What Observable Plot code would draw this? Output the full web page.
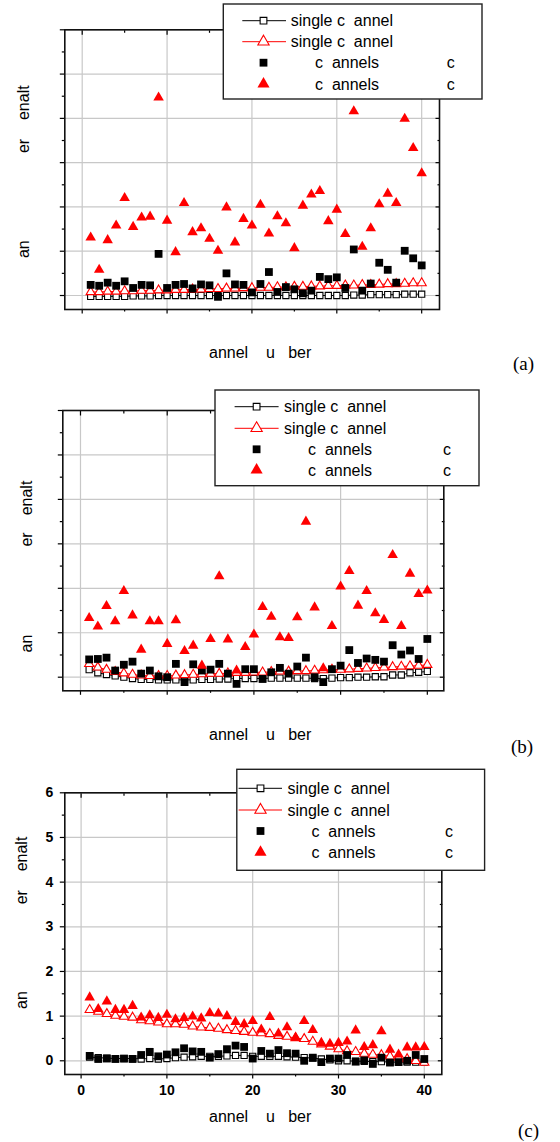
<!DOCTYPE html>
<html>
<head>
<meta charset="utf-8">
<script src="https://cdn.jsdelivr.net/npm/d3@7"></script>
<script src="https://cdn.jsdelivr.net/npm/@observablehq/plot@0.6"></script>
<style>
  html, body { margin: 0; padding: 0; background: #fff; }
  #chart { width: 560px; }
  #chart svg { display: block; }
</style>
</head>
<body>
<div id="chart"></div>
<script>
// ---------- categories / ticks / texts ----------
const channels = [1,2,3,4,5,6,7,8,9,10,11,12,13,14,15,16,17,18,19,20,21,22,23,24,25,26,27,28,29,30,31,32,33,34,35,36,37,38,39,40];
const xMajor = [0, 10, 20, 30, 40];
const xMinor = [5, 15, 25, 35];
const yMajor = [0, 1, 2, 3, 4, 5, 6];
const yMinor = [0.5, 1.5, 2.5, 3.5, 4.5, 5.5];
const xTickLabels = ["0", "10", "20", "30", "40"];
const yTickLabels = ["0", "1", "2", "3", "4", "5", "6"];
const legendLabels = ["single c\u00a0\u00a0annel", "single c\u00a0\u00a0annel", "c\u00a0\u00a0annels", "c\u00a0\u00a0annels"];
const legendSuffix = ["", "", "c", "c"];
const xAxisLabel = "annel\u00a0\u00a0\u00a0\u00a0u\u00a0\u00a0\u00a0ber";
const yAxisLabelParts = ["an", "er", "enalt"];
const panelTags = ["(a)", "(b)", "(c)"];

// ---------- panel (a) ----------
const aOpenSq  = [-0.02,-0.02,-0.02,-0.02,-0.02,-0.01,-0.01,-0.01,0,0, 0,0,0,0,0,0,0,0,0,0, 0,0,0,0,0,0,0,0,0,0, 0,0.01,0.01,0.02,0.02,0.02,0.02,0.03,0.03,0.03];
const aOpenTri = [0.08,0.08,0.09,0.09,0.10,0.10,0.11,0.11,0.12,0.12, 0.13,0.13,0.14,0.14,0.15,0.15,0.16,0.16,0.17,0.17, 0.18,0.18,0.19,0.19,0.20,0.20,0.21,0.21,0.22,0.22, 0.23,0.23,0.24,0.24,0.25,0.26,0.26,0.27,0.28,0.28];
const aFillSq  = [0.24,0.22,0.29,0.22,0.32,0.17,0.24,0.23,0.94,0.17, 0.24,0.26,0.16,0.25,0.23,-0.03,0.50,0.25,0.24,0.07, 0.26,0.53,0.08,0.19,0.14,0.05,0.11,0.42,0.37,0.41, 0.17,1.04,0.11,0.27,0.74,0.58,0.29,1.01,0.84,0.68];
const aFillTri = [1.31,0.58,1.25,1.58,2.20,1.55,1.76,1.78,4.47,1.69, 0.98,2.09,1.43,1.52,1.28,1.01,1.99,1.20,1.73,1.58, 2.05,1.40,1.79,1.63,1.07,2.03,2.28,2.36,1.68,1.94, 1.39,4.16,1.10,1.52,2.06,2.30,2.09,3.99,3.33,2.76];

// ---------- panel (b) ----------
const bOpenSq  = [0.17,0.10,0.06,0.03,0.0,-0.03,-0.05,-0.05,-0.06,-0.06, -0.06,-0.06,-0.06,-0.05,-0.05,-0.04,-0.04,-0.03,-0.03,-0.03, -0.03,-0.02,-0.02,-0.02,-0.02,-0.02,-0.03,-0.03,-0.02,-0.01, -0.01,0,0,0.01,0.01,0.05,0.05,0.10,0.11,0.13];
const bOpenTri = [0.30,0.22,0.17,0.12,0.09,0.06,0.04,0.03,0.03,0.03, 0.04,0.05,0.06,0.07,0.08,0.08,0.09,0.10,0.10,0.11, 0.11,0.12,0.13,0.13,0.14,0.14,0.15,0.16,0.17,0.17, 0.18,0.19,0.20,0.21,0.22,0.23,0.24,0.25,0.26,0.28];
const bFillSq  = [0.40,0.41,0.44,0.15,0.28,0.35,0.08,0.15,0.02,0.0, 0.30,-0.11,0.29,0.15,0.17,0.30,0.08,-0.15,0.18,0.18, -0.04,0.11,0.21,0.08,0.24,0.44,0.0,-0.11,0.18,0.26, 0.61,0.32,0.42,0.39,0.35,0.72,0.51,0.60,0.41,0.86];
const bFillTri = [1.33,1.14,1.60,1.26,1.94,1.39,0.62,1.26,1.26,0.75, 1.28,0.59,0.71,0.26,0.86,2.27,0.85,0.15,0.68,0.96, 1.58,1.36,0.90,0.88,1.35,3.50,1.57,0.20,1.15,2.04, 2.39,1.61,1.94,1.44,1.29,2.75,1.15,2.33,1.87,1.95];

// ---------- panel (c) ----------
const cOpenSq  = [0.08,0.07,0.06,0.05,0.05,0.05,0.04,0.05,0.04,0.05, 0.07,0.08,0.09,0.10,0.10,0.10,0.11,0.12,0.12,0.10, 0.10,0.10,0.10,0.09,0.08,0.07,0.06,0.04,0.02,0.0, 0.0,-0.01,-0.01,-0.02,-0.02,-0.03,-0.03,-0.03,-0.03,-0.03];
const cOpenTri = [1.14,1.10,1.05,1.01,0.99,0.97,0.91,0.89,0.86,0.82, 0.82,0.81,0.77,0.75,0.74,0.72,0.69,0.67,0.65,0.63, 0.62,0.60,0.56,0.54,0.51,0.49,0.43,0.37,0.32,0.26, 0.22,0.20,0.16,0.14,0.13,0.10,0.07,0.04,0.0,-0.04];
const cFillSq  = [0.11,0.04,0.05,0.04,0.05,0.04,0.13,0.20,0.10,0.14, 0.19,0.28,0.21,0.20,0.07,0.15,0.26,0.34,0.31,0.05, 0.22,0.16,0.24,0.17,0.16,0.0,0.07,-0.03,0.05,0.05, 0.13,-0.02,0.01,-0.07,0.07,-0.04,-0.03,0.0,0.13,0.04];
const cFillTri = [1.42,1.16,1.33,1.14,1.14,1.23,0.97,1.02,0.96,1.03, 0.93,0.96,0.99,0.95,1.07,1.06,1.00,0.87,0.82,0.89, 0.70,0.98,0.61,0.75,0.52,0.89,0.69,0.40,0.38,0.40, 0.43,0.68,0.31,0.35,0.66,0.25,0.14,0.30,0.30,0.31];

// ---------- layout (positions and styles) ----------
const FONT = "'Liberation Sans', Arial, Helvetica, sans-serif";
const SERIF = "'Liberation Serif', 'Times New Roman', serif";
const RED = "#ff0000";
const GRID = "#c8c8c8";

const panels = [
  { series: {s0: aOpenSq, s1: aOpenTri, m0: aFillSq, m1: aFillTri},
    height: 380, mt: 29.3, mb: 71, ml: 64.3, mr: 121, xd: [-2.05, 42.1], yd: [-0.316, 6], labels: false,
    tag: {x: 513, y: 370}, xl: {x: 209, y: 357.5}, yl: {x: 28.5, ys: [249.2, 146, 102.7]},
    lg: {x: 223.3, y: 4, w: 258.7, h: 95, rows: [20.7, 41.7, 62.7, 84], lx1: 242.3, lx2: 286, mx: 263.5, tx: 290.7, tx2: 315, tx3: 446.7} },
  { series: {s0: bOpenSq, s1: bOpenTri, m0: bFillSq, m1: bFillTri},
    height: 380, mt: 30, mb: 69.7, ml: 62.3, mr: 116.7, xd: [-2.04, 41.9], yd: [-0.306, 6], labels: false,
    tag: {x: 511, y: 373}, xl: {x: 209, y: 359.5}, yl: {x: 31.5, ys: [263.5, 159.5, 118]},
    lg: {x: 215, y: 10, w: 264, h: 95.7, rows: [26.7, 48.3, 69.3, 90], lx1: 234.6, lx2: 278.6, mx: 256.6, tx: 284, tx2: 308, tx3: 443} },
  { series: {s0: cOpenSq, s1: cOpenTri, m0: cFillSq, m1: cFillTri},
    height: 382, mt: 32.3, mb: 68, ml: 64.3, mr: 118.7, xd: [-1.9, 42.04], yd: [-0.307, 6], labels: true,
    tag: {x: 518, y: 376.5}, xl: {x: 209, y: 362}, yl: {x: 27, ys: [240, 137.2, 94]},
    lg: {x: 236.8, y: 9.3, w: 247.8, h: 101, rows: [28.3, 50, 71, 92.3], lx1: 238.6, lx2: 282, mx: 260.5, tx: 287.5, tx2: 311.4, tx3: 445} }
];

const R = {openSq: 3.5, openTri: 3.4, fillSq: 4.4, fillTri: 3.9};

function symbolPath(type, r) {
  return d3.symbol(type, Math.PI * r * r)();
}

function makePanel(p, idx) {
  const rows = channels.map((n, i) => ({n, s0: p.series.s0[i], s1: p.series.s1[i], m0: p.series.m0[i], m1: p.series.m1[i]}));
  const lab = p.labels;
  const tickTxt = lab ? {fontSize: 14, fontWeight: "bold", fill: "#000"} : {};
  const svg = Plot.plot({
    width: 560,
    height: p.height,
    marginTop: p.mt, marginBottom: p.mb, marginLeft: p.ml, marginRight: p.mr,
    style: {fontFamily: FONT, background: "#fff", overflow: "visible"},
    x: {type: "linear", domain: p.xd},
    y: {type: "linear", domain: p.yd},
    marks: [
      Plot.gridX(xMajor, {stroke: GRID, strokeOpacity: 1, strokeWidth: 1.2}),
      Plot.gridY(yMajor, {stroke: GRID, strokeOpacity: 1, strokeWidth: 1.2}),
      // outer ticks bottom / left
      Plot.axisX(xMajor, {anchor: "bottom", tickSize: 4.5, tickPadding: 6, label: null, stroke: "#000", strokeWidth: 1.2,
        tickFormat: lab ? (d => xTickLabels[xMajor.indexOf(d)]) : (() => ""), ...tickTxt}),
      Plot.axisX(xMinor, {anchor: "bottom", tickSize: 2.5, label: null, stroke: "#000", strokeWidth: 1.2, tickFormat: () => ""}),
      Plot.axisY(yMajor, {anchor: "left", tickSize: 4.5, tickPadding: 7, label: null, stroke: "#000", strokeWidth: 1.2,
        tickFormat: lab ? (d => yTickLabels[yMajor.indexOf(d)]) : (() => ""), ...tickTxt}),
      Plot.axisY(yMinor, {anchor: "left", tickSize: 2.5, label: null, stroke: "#000", strokeWidth: 1.2, tickFormat: () => ""}),
      // inner ticks top / right
      Plot.axisX(xMajor, {anchor: "top", tickSize: -4.5, label: null, stroke: "#000", strokeWidth: 1.2, tickFormat: () => ""}),
      Plot.axisX(xMinor, {anchor: "top", tickSize: -2.5, label: null, stroke: "#000", strokeWidth: 1.2, tickFormat: () => ""}),
      Plot.axisY(yMajor, {anchor: "right", tickSize: -4.5, label: null, stroke: "#000", strokeWidth: 1.2, tickFormat: () => ""}),
      Plot.axisY(yMinor, {anchor: "right", tickSize: -2.5, label: null, stroke: "#000", strokeWidth: 1.2, tickFormat: () => ""}),
      // single channel series (lines + open symbols)
      Plot.line(rows, {x: "n", y: "s0", stroke: "#000", strokeWidth: 1}),
      Plot.dot(rows, {x: "n", y: "s0", symbol: "square", r: R.openSq, fill: "#fff", stroke: "#000", strokeWidth: 1.1}),
      Plot.line(rows, {x: "n", y: "s1", stroke: RED, strokeWidth: 1}),
      Plot.dot(rows, {x: "n", y: "s1", symbol: "triangle", r: R.openTri, fill: "#fff", stroke: RED, strokeWidth: 1.1}),
      // multi channel series (filled symbols)
      Plot.dot(rows, {x: "n", y: "m0", symbol: "square", r: R.fillSq, fill: "#000", stroke: null}),
      Plot.dot(rows, {x: "n", y: "m1", symbol: "triangle", r: R.fillTri, fill: RED, stroke: null}),
      Plot.frame({stroke: "#111", strokeWidth: 1.6})
    ]
  });

  const s = d3.select(svg);

  // x axis title
  s.append("text")
    .attr("x", p.xl.x).attr("y", p.xl.y)
    .attr("font-family", FONT).attr("font-size", 16).attr("fill", "#000").attr("text-anchor", "start")
    .text(xAxisLabel);

  // y axis title pieces (rotated)
  yAxisLabelParts.forEach((t, i) => {
    s.append("text")
      .attr("transform", `translate(${p.yl.x},${p.yl.ys[i]}) rotate(-90)`)
      .attr("font-family", FONT).attr("font-size", 16).attr("fill", "#000").attr("text-anchor", "middle")
      .text(t);
  });

  // panel tag
  s.append("text")
    .attr("x", p.tag.x).attr("y", p.tag.y)
    .attr("font-family", SERIF).attr("font-size", 19).attr("fill", "#000").attr("text-anchor", "start")
    .text(panelTags[idx]);

  // legend
  const L = p.lg;
  const g = s.append("g").attr("class", "legend");
  g.append("rect").attr("x", L.x).attr("y", L.y).attr("width", L.w).attr("height", L.h)
    .attr("fill", "#fff").attr("stroke", "#222").attr("stroke-width", 1.4);
  const yy = L.rows;
  // row 0: black line + open square
  g.append("line").attr("x1", L.lx1).attr("x2", L.lx2).attr("y1", yy[0]).attr("y2", yy[0]).attr("stroke", "#000").attr("stroke-width", 1);
  g.append("path").attr("d", symbolPath(d3.symbolSquare, R.openSq + 0.3)).attr("transform", `translate(${L.mx},${yy[0]})`)
    .attr("fill", "#fff").attr("stroke", "#000").attr("stroke-width", 1.1);
  // row 1: red line + open triangle
  g.append("line").attr("x1", L.lx1).attr("x2", L.lx2).attr("y1", yy[1]).attr("y2", yy[1]).attr("stroke", RED).attr("stroke-width", 1);
  g.append("path").attr("d", symbolPath(d3.symbolTriangle, R.openTri + 0.8)).attr("transform", `translate(${L.mx},${yy[1]})`)
    .attr("fill", "#fff").attr("stroke", RED).attr("stroke-width", 1.1);
  // row 2: filled square
  g.append("path").attr("d", symbolPath(d3.symbolSquare, R.fillSq)).attr("transform", `translate(${L.mx},${yy[2]})`).attr("fill", "#000");
  // row 3: filled triangle
  g.append("path").attr("d", symbolPath(d3.symbolTriangle, R.fillTri + 0.6)).attr("transform", `translate(${L.mx},${yy[3]})`).attr("fill", RED);

  legendLabels.forEach((t, i) => {
    g.append("text")
      .attr("x", i < 2 ? L.tx : L.tx2).attr("y", yy[i] + 5.5)
      .attr("font-family", FONT).attr("font-size", 16).attr("fill", "#000").attr("text-anchor", "start")
      .text(t);
    if (legendSuffix[i]) {
      g.append("text")
        .attr("x", L.tx3).attr("y", yy[i] + 5.5)
        .attr("font-family", FONT).attr("font-size", 16).attr("fill", "#000").attr("text-anchor", "start")
        .text(legendSuffix[i]);
    }
  });

  return svg;
}

const container = document.getElementById("chart");
panels.forEach((p, i) => container.appendChild(makePanel(p, i)));
</script>
</body>
</html>
